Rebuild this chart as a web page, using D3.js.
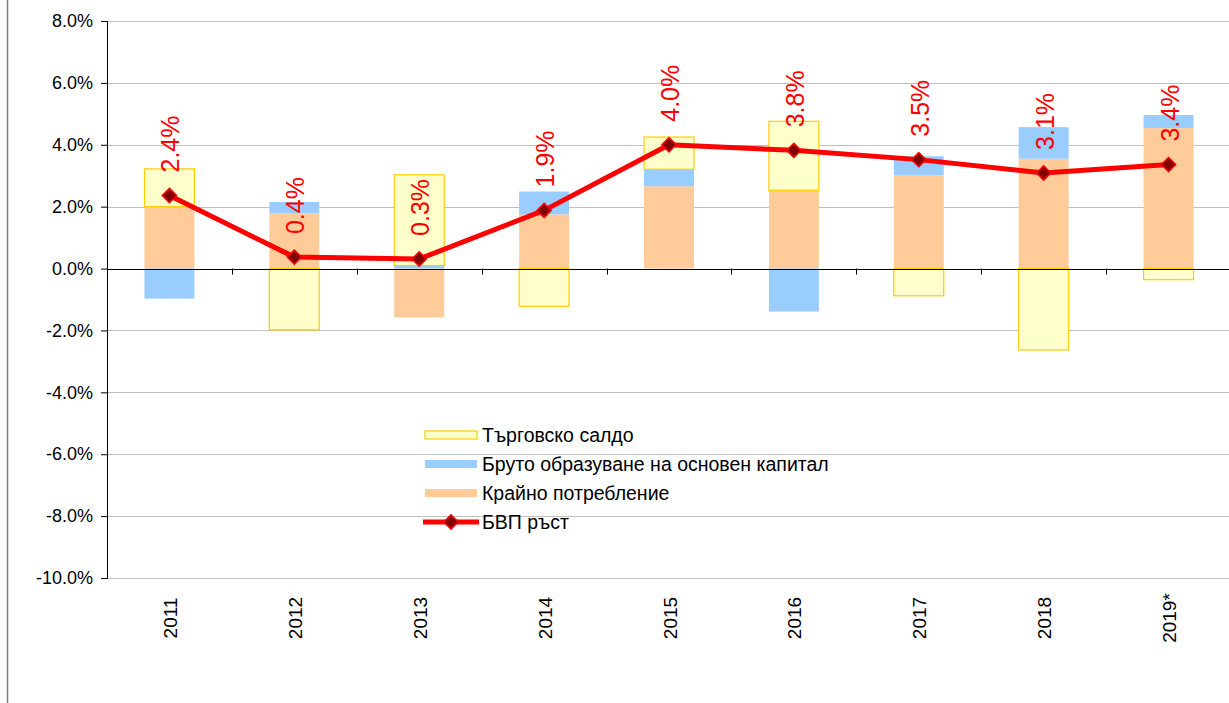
<!DOCTYPE html>
<html>
<head>
<meta charset="utf-8">
<script src="https://cdn.jsdelivr.net/npm/d3@7"></script>
<style>
  body { margin: 0; background: #fff; }
  svg { font-family: "Liberation Sans", Arial, sans-serif; }
</style>
</head>
<body>
<svg id="chart" width="1229" height="703"></svg>
<script>
// data (percent)
var years = ["2011", "2012", "2013", "2014", "2015", "2016", "2017", "2018", "2019*"];
var consumption = [2.0, 1.78, -1.58, 1.75, 2.66, 2.53, 3.01, 3.55, 4.54];   // Крайно потребление
var investment = [-0.97, 0.37, 0.10, 0.74, 0.55, -1.39, 0.62, 1.02, 0.42];  // Бруто образуване
var tradeBalance = [1.22, -1.98, 2.93, -1.22, 1.04, 2.23, -0.88, -2.63, -0.36]; // Търговско салдо
var gdp = [2.36, 0.37, 0.31, 1.88, 4.0, 3.82, 3.52, 3.09, 3.36];            // БВП ръст
var yTicks = [-10, -8, -6, -4, -2, 0, 2, 4, 6, 8];

var series = [
  {name: "Крайно потребление", values: consumption, fill: "#FFCC99", stroke: "none"},
  {name: "Бруто образуване на основен капитал", values: investment, fill: "#99CCFF", stroke: "none"},
  {name: "Търговско салдо", values: tradeBalance, fill: "#FFFFCC", stroke: "#FFCC00"}
];

var svg = d3.select("#chart");
var plotLeft = 107, plotTop = 21, plotBottom = 578, plotRight = 1231;

var y = d3.scaleLinear().domain([-10, 8]).range([plotBottom, plotTop]);
var x = d3.scaleBand().domain(years).range([plotLeft, plotRight]).paddingInner(0.6).paddingOuter(0.3);
var xb = d3.scaleBand().domain(years).range([plotLeft, plotRight]);

// outer frame line on the left
svg.append("line").attr("x1", 7.5).attr("x2", 7.5).attr("y1", 0).attr("y2", 703)
   .attr("stroke", "#808080").attr("stroke-width", 1.5);

// gridlines
svg.append("g").selectAll("line").data(yTicks.filter(function(d){ return d != 0; }))
   .enter().append("line")
   .attr("x1", plotLeft).attr("x2", 1229)
   .attr("y1", function(d){ return Math.round(y(d)) + 0.5; })
   .attr("y2", function(d){ return Math.round(y(d)) + 0.5; })
   .attr("stroke", "#C0C0C0").attr("stroke-width", 1);

// stacked bars, positives and negatives stacked separately
var posBase = years.map(function(){ return 0; });
var negBase = years.map(function(){ return 0; });
series.forEach(function(s) {
  var rects = [];
  s.values.forEach(function(v, i) {
    var y0, y1;
    if (v >= 0) { y0 = posBase[i]; y1 = y0 + v; posBase[i] = y1; }
    else { y0 = negBase[i]; y1 = y0 + v; negBase[i] = y1; }
    rects.push({year: years[i], y0: y0, y1: y1});
  });
  svg.append("g").selectAll("rect").data(rects).enter().append("rect")
     .attr("x", function(d){ return x(d.year); })
     .attr("width", x.bandwidth())
     .attr("y", function(d){ return y(Math.max(d.y0, d.y1)); })
     .attr("height", function(d){ return Math.abs(y(d.y0) - y(d.y1)); })
     .attr("fill", s.fill)
     .attr("stroke", s.stroke)
     .attr("stroke-width", 1.2);
});

// y axis
var yAxis = d3.axisLeft(y).tickValues(yTicks).tickSize(6).tickPadding(8)
  .tickFormat(function(d){ return d.toFixed(1) + "%"; });
var gy = svg.append("g").attr("transform", "translate(" + plotLeft + ",0)").call(yAxis);
gy.select(".domain").attr("stroke", "#000");
gy.selectAll(".tick line").attr("stroke", "#000");
gy.selectAll("text").attr("font-size", "18px").attr("fill", "#000")
  .attr("font-family", "Liberation Sans, Arial, sans-serif");

// zero line with category tick marks
svg.append("line").attr("x1", plotLeft).attr("x2", 1229)
   .attr("y1", Math.round(y(0)) + 0.5).attr("y2", Math.round(y(0)) + 0.5)
   .attr("stroke", "#000");
svg.append("g").selectAll("line").data(years.slice(1)).enter().append("line")
   .attr("x1", function(d){ return Math.round(xb(d)) + 0.5; })
   .attr("x2", function(d){ return Math.round(xb(d)) + 0.5; })
   .attr("y1", y(0)).attr("y2", y(0) + 6)
   .attr("stroke", "#000");

// year labels (rotated)
svg.append("g").selectAll("text").data(years).enter().append("text")
   .attr("transform", function(d){ return "translate(" + (xb(d) + xb.bandwidth() / 2 + 1) + ",618) rotate(-90)"; })
   .attr("text-anchor", "middle").attr("dominant-baseline", "central")
   .attr("font-size", "19px").attr("fill", "#000")
   .text(function(d){ return d; });

// GDP line
var cx = function(i){ return x(years[i]) + x.bandwidth() / 2; };
var line = d3.line().x(function(d, i){ return cx(i); }).y(function(d){ return y(d); });
svg.append("path").datum(gdp).attr("d", line)
   .attr("fill", "none").attr("stroke", "#FF0000").attr("stroke-width", 5)
   .attr("stroke-linejoin", "round");

var diamond = d3.symbol().type(d3.symbolDiamond2).size(130);
svg.append("g").selectAll("path").data(gdp).enter().append("path")
   .attr("d", diamond)
   .attr("transform", function(d, i){ return "translate(" + cx(i) + "," + y(d) + ")"; })
   .attr("fill", "#800000").attr("stroke", "#FF0000").attr("stroke-width", 1.5);

// GDP value labels
svg.append("g").selectAll("text").data(gdp).enter().append("text")
   .attr("transform", function(d, i){ return "translate(" + (cx(i) + 1) + "," + (y(d) - 23) + ") rotate(-90)"; })
   .attr("text-anchor", "start").attr("dominant-baseline", "central")
   .attr("font-size", "25px").attr("fill", "#FF0000")
   .text(function(d){ return d.toFixed(1) + "%"; });

// legend
var legendItems = [
  {name: "Търговско салдо", fill: "#FFFFCC", stroke: "#FFCC00", type: "rect"},
  {name: "Бруто образуване на основен капитал", fill: "#99CCFF", stroke: "none", type: "rect"},
  {name: "Крайно потребление", fill: "#FFCC99", stroke: "none", type: "rect"},
  {name: "БВП ръст", type: "line"}
];
var lg = svg.append("g");
legendItems.forEach(function(item, i) {
  var ly = 435 + i * 29;
  if (item.type == "rect") {
    lg.append("rect").attr("x", 425).attr("y", ly - 4).attr("width", 52).attr("height", 8)
      .attr("fill", item.fill).attr("stroke", item.stroke).attr("stroke-width", 1.2);
  } else {
    lg.append("line").attr("x1", 423).attr("x2", 479).attr("y1", ly).attr("y2", ly)
      .attr("stroke", "#FF0000").attr("stroke-width", 5);
    lg.append("path").attr("d", diamond).attr("transform", "translate(451," + ly + ")")
      .attr("fill", "#800000").attr("stroke", "#FF0000").attr("stroke-width", 1.5);
  }
  lg.append("text").attr("x", 482).attr("y", ly).attr("dominant-baseline", "central")
    .attr("font-size", "19.5px").attr("fill", "#000").text(item.name);
});
</script>
</body>
</html>
